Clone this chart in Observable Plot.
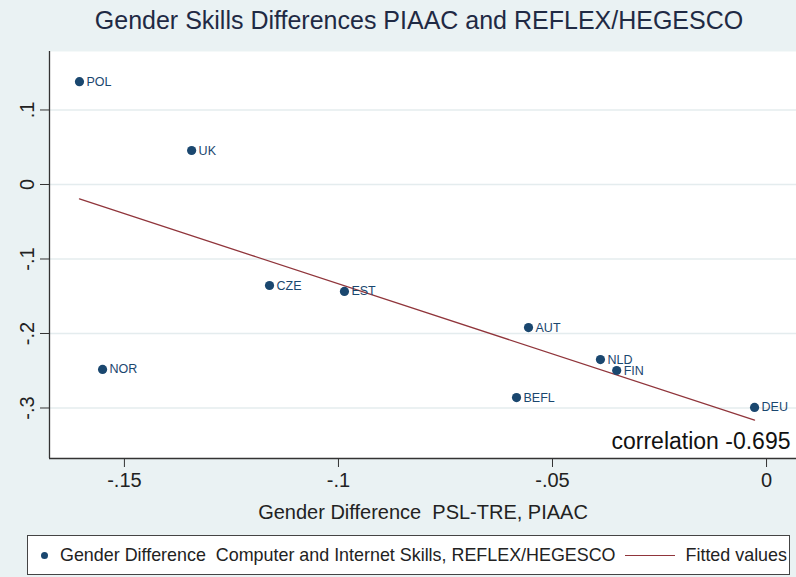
<!DOCTYPE html>
<html>
<head>
<meta charset="utf-8">
<script src="https://cdn.jsdelivr.net/npm/d3@7"></script>
<script src="https://cdn.jsdelivr.net/npm/@observablehq/plot@0.6"></script>
<style>
  html, body { margin: 0; padding: 0; background: #eaf2f3; }
  body { width: 796px; height: 577px; overflow: hidden; position: relative; font-family: "Liberation Sans", Arial, sans-serif; }
  #title { height: 36px; line-height: 40px; text-align: center; padding-left: 42px; font-size: 25px; color: #1f2a44; white-space: nowrap; }
  #chart svg { display: block; background: transparent; }
  #legend { position: absolute; left: 27px; top: 535px; width: 763px; height: 40px; box-sizing: border-box;
            background: #fff; border: 1.5px solid #444; display: flex; align-items: center; font-size: 17.9px; color: #222; white-space: nowrap; }
  #legend .dot { width: 7px; height: 7px; border-radius: 50%; background: #1a476f; margin: 0 12px 0 13px; }
  #legend .line { width: 50px; height: 0; border-top: 1.5px solid #90353b; margin: 0 11px 0 9px; }
</style>
</head>
<body>
<div id="title">Gender Skills Differences PIAAC and REFLEX/HEGESCO</div>
<div id="chart"></div>
<div id="legend">
  <span class="dot"></span><span>Gender Difference&nbsp; Computer and Internet Skills, REFLEX/HEGESCO</span>
  <span class="line"></span><span>Fitted values</span>
</div>
<script>
// Country codes
const countries = ["POL", "UK", "CZE", "EST", "AUT", "NLD", "FIN", "BEFL", "DEU", "NOR"];
// Gender difference PSL-TRE, PIAAC
const psltre = [-0.1605, -0.1343, -0.1161, -0.0986, -0.0556, -0.0388, -0.0350, -0.0584, -0.0028, -0.1551];
// Gender difference computer and internet skills, REFLEX/HEGESCO
const cis = [0.138, 0.0456, -0.1356, -0.1436, -0.192, -0.235, -0.2497, -0.286, -0.2993, -0.2483];

const xTicks = [-0.15, -0.1, -0.05, 0];
const yTicks = [0.1, 0, -0.1, -0.2, -0.3];
const correlationText = "correlation -0.695";
const xTitle = "Gender Difference  PSL-TRE, PIAAC";

const data = countries.map((c, i) => ({country: c, x: psltre[i], y: cis[i]}));

// Stata-style tick labels: ".1", "-.15", "0"
const fmt = d => d === 0 ? "0" : String(+d.toFixed(3)).replace("0.", ".");

const xDomain = [-0.1675, 0.007];
const yDomain = [-0.3678, 0.1785];

const chart = Plot.plot({
  width: 796,
  height: 494,
  marginTop: 15,
  marginLeft: 49,
  marginRight: 0,
  marginBottom: 72,
  style: {fontFamily: "Liberation Sans, Arial, sans-serif", background: "transparent", overflow: "visible"},
  x: {domain: xDomain},
  y: {domain: yDomain},
  marks: [
    Plot.frame({fill: "white", stroke: null}),
    Plot.gridY(yTicks, {stroke: "#e4ecee", strokeOpacity: 1, strokeWidth: 1.5}),
    Plot.axisY(yTicks, {tickFormat: fmt, tickRotate: -90, tickSize: 9, tickPadding: 7, fontSize: 20, label: null, color: "#222", stroke: "#333"}),
    Plot.axisX(xTicks, {tickFormat: fmt, tickSize: 9, tickPadding: 5, fontSize: 20, label: null, color: "#222", stroke: "#333"}),
    Plot.ruleX([xDomain[0]], {stroke: "#333", strokeWidth: 1.3}),
    Plot.ruleY([yDomain[0]], {stroke: "#333", strokeWidth: 1.3}),
    Plot.linearRegressionY(data, {x: "x", y: "y", stroke: "#90353b", strokeWidth: 1.3, ci: 0}),
    Plot.dot(data, {x: "x", y: "y", r: 4.6, fill: "#1a476f", stroke: null}),
    Plot.text(data, {x: "x", y: "y", text: "country", dx: 7, textAnchor: "start", fontSize: 12.5, fill: "#1a476f"}),
    Plot.text([correlationText], {frameAnchor: "bottom-right", dx: -6, dy: -17, lineAnchor: "middle", fontSize: 23, fill: "#111"}),
    Plot.text([xTitle], {frameAnchor: "bottom", dy: 54, lineAnchor: "middle", fontSize: 20, fill: "#222"})
  ]
});
document.getElementById("chart").appendChild(chart);
</script>
</body>
</html>
